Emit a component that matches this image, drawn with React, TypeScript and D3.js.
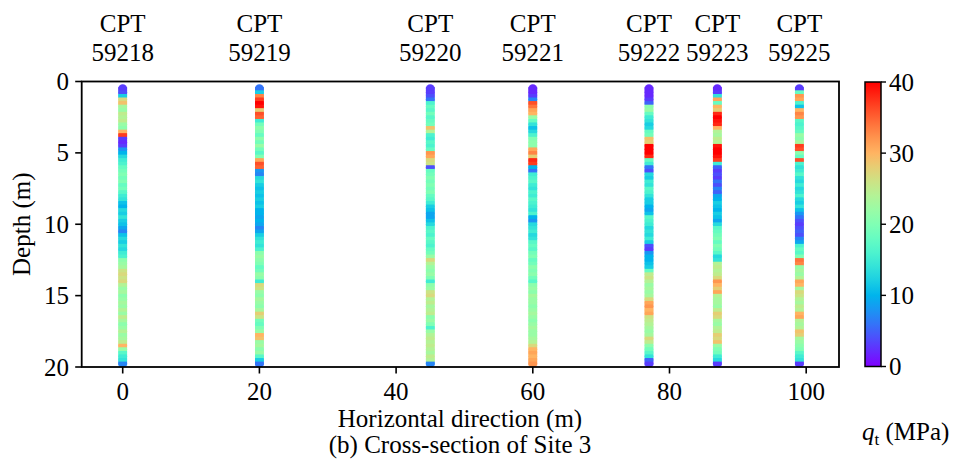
import React from "react";
import * as d3 from "d3";

// CPT soundings along the cross-section
const CPT_IDS = ["59218", "59219", "59220", "59221", "59222", "59223", "59225"];
const CPT_X = [0, 20, 45, 60, 77, 87, 99];

// Sampling depths (m): 0.5 m to 19.75 m every 0.25 m
const DEPTH_STEP = 0.25;
const DEPTHS = d3.range(0.5, 19.76, DEPTH_STEP);

// Cone resistance q_t (MPa), one value per sampling depth
const QT_59218 = [
  3, 4, 12, 27, 29, 23, 22, 25, 24, 25, 22, 21, 30, 37, 3, 2,
  3, 8, 10, 13, 15, 16, 18, 19, 20, 19, 20, 18, 19, 17, 15, 14,
  11, 10, 13, 12, 14, 12, 11, 9, 7, 11, 13, 12, 14, 13, 15, 16,
  21, 22, 23, 26, 27, 26, 27, 24, 22, 23, 21, 22, 23, 22, 24, 22,
  25, 23, 21, 22, 24, 22, 23, 25, 30, 22, 17, 15, 14, 7,
];
const QT_59219 = [
  6, 12, 33, 37, 40, 39, 28, 36, 35, 15, 19, 21, 20, 18, 21, 19,
  22, 19, 17, 20, 31, 36, 35, 8, 7, 13, 14, 12, 11, 12, 11, 12,
  11, 12, 10, 10, 9, 10, 9, 7, 9, 12, 14, 15, 14, 16, 21, 22,
  21, 20, 18, 19, 22, 21, 15, 27, 26, 22, 21, 23, 22, 21, 23, 28,
  26, 19, 18, 20, 22, 30, 29, 22, 23, 21, 22, 17, 12, 6,
];
const QT_59220 = [
  3, 3, 4, 6, 16, 18, 17, 19, 17, 18, 19, 29, 24, 16, 15, 17,
  16, 18, 32, 31, 27, 26, 4, 18, 19, 20, 19, 20, 19, 20, 18, 17,
  15, 12, 11, 9, 9, 11, 13, 16, 17, 16, 18, 17, 16, 18, 19, 22,
  27, 24, 22, 21, 22, 20, 15, 21, 22, 26, 27, 24, 25, 23, 24, 25,
  21, 22, 20, 16, 22, 24, 25, 24, 25, 24, 23, 25, 24, 7,
];
const QT_59221 = [
  2, 2, 3, 7, 36, 34, 31, 30, 22, 18, 14, 11, 13, 16, 20, 21,
  21, 31, 33, 28, 38, 37, 10, 6, 15, 16, 17, 15, 14, 16, 15, 17,
  16, 15, 14, 16, 10, 8, 13, 14, 15, 13, 14, 17, 18, 17, 19, 20,
  18, 19, 21, 20, 21, 19, 17, 21, 22, 21, 23, 22, 22, 21, 22, 23,
  22, 21, 22, 23, 22, 22, 23, 24, 27, 30, 31, 30, 31, 32,
];
const QT_59222 = [
  2, 2, 2, 3, 5, 21, 22, 18, 15, 14, 12, 13, 18, 19, 29, 28,
  40, 40, 40, 38, 18, 15, 6, 4, 13, 12, 15, 14, 17, 16, 14, 12,
  12, 10, 9, 11, 17, 16, 15, 13, 14, 13, 15, 12, 4, 3, 8, 10,
  10, 11, 12, 18, 25, 26, 24, 22, 23, 22, 23, 27, 31, 32, 30, 31,
  26, 25, 24, 23, 22, 23, 27, 25, 21, 19, 17, 14, 5, 3,
];
const QT_59223 = [
  2, 3, 14, 31, 18, 30, 28, 38, 40, 39, 38, 30, 24, 23, 25, 24,
  39, 40, 40, 39, 37, 15, 5, 3, 4, 3, 6, 4, 7, 5, 9, 10,
  12, 11, 10, 12, 11, 9, 13, 17, 18, 19, 20, 18, 20, 19, 17, 13,
  14, 24, 25, 24, 25, 27, 32, 30, 28, 31, 24, 23, 23, 22, 25, 28,
  27, 23, 22, 24, 25, 28, 27, 29, 22, 20, 19, 15, 13, 3,
];
const QT_59225 = [
  3, 18, 32, 31, 16, 11, 30, 33, 32, 17, 16, 17, 18, 22, 21, 23,
  37, 36, 21, 18, 36, 16, 14, 15, 17, 14, 13, 15, 13, 14, 16, 13,
  12, 14, 11, 8, 6, 4, 3, 4, 5, 4, 7, 9, 16, 18, 17, 20,
  34, 33, 22, 23, 22, 24, 31, 30, 23, 27, 26, 24, 23, 25, 24, 30,
  31, 24, 23, 24, 29, 28, 23, 22, 21, 20, 17, 15, 14, 3,
];
const QT_SERIES = [QT_59218, QT_59219, QT_59220, QT_59221, QT_59222, QT_59223, QT_59225];

const X_TICKS = [0, 20, 40, 60, 80, 100];
const Y_TICKS = [0, 5, 10, 15, 20];
const CBAR_TICKS = [0, 10, 20, 30, 40];

// matplotlib-style "rainbow" colormap
function rainbow(t: number): string {
  const c = Math.max(0, Math.min(1, t));
  const r = Math.min(1, Math.abs(2 * c - 0.5));
  const g = Math.sin(Math.PI * c);
  const b = Math.cos((Math.PI * c) / 2);
  return d3.rgb(r * 255, g * 255, b * 255).formatHex();
}

const W = 957;
const H = 464;
const FONT = "'Liberation Serif', 'Times New Roman', serif";
const FS = 25;

const PL = 81.7;
const PR = 839;
const PT = 81.5;
const PB = 367;

export default function App() {
  const x = d3.scaleLinear().domain([-6, 104.8]).range([PL, PR]);
  const y = d3.scaleLinear().domain([0, 20]).range([PT, PB]);
  const color = (v: number) => rainbow(v / 40);
  const R = 4.4;
  const bandH = y(DEPTH_STEP) - y(0);

  const cbX = 865;
  const cbW = 16;
  const cb = d3.scaleLinear().domain([0, 40]).range([366.5, 82]);
  const stops = d3.range(0, 1.0001, 0.05);

  return (
    <svg
      width={W}
      height={H}
      style={{ position: "absolute", left: 0, top: 0, background: "#fff" }}
      fontFamily={FONT}
    >
      <defs>
        <linearGradient id="cbar" x1="0" y1="1" x2="0" y2="0">
          {stops.map((s) => (
            <stop key={s} offset={s} stopColor={rainbow(s)} />
          ))}
        </linearGradient>
        <clipPath id="plotclip">
          <rect x={PL} y={PT} width={PR - PL} height={PB - PT} />
        </clipPath>
      </defs>

      {/* CPT columns: round markers with a band per sample so the column reads continuous */}
      <g clipPath="url(#plotclip)">
        {QT_SERIES.map((vals, ci) => {
          const cx = x(CPT_X[ci]);
          return (
            <g key={CPT_IDS[ci]}>
              {vals.map((v, i) => (
                <circle key={"c" + i} cx={cx} cy={y(DEPTHS[i])} r={R} fill={color(v)} />
              ))}
              {vals.map((v, i) => (
                <rect
                  key={"r" + i}
                  x={cx - R}
                  y={y(DEPTHS[i]) - bandH / 2}
                  width={2 * R}
                  height={bandH + 0.3}
                  fill={color(v)}
                />
              ))}
            </g>
          );
        })}
      </g>

      {/* sounding labels */}
      {CPT_IDS.map((id, ci) => (
        <text key={id} textAnchor="middle" fontSize={FS} fill="#000">
          <tspan x={x(CPT_X[ci])} y={32}>CPT</tspan>
          <tspan x={x(CPT_X[ci])} y={61}>{id}</tspan>
        </text>
      ))}

      {/* frame */}
      <rect x={PL} y={PT} width={PR - PL} height={PB - PT} fill="none" stroke="#000" strokeWidth={1.8} />

      {/* x axis */}
      {X_TICKS.map((t) => (
        <g key={t}>
          <line x1={x(t)} x2={x(t)} y1={PB} y2={PB + 6.5} stroke="#000" strokeWidth={1.6} />
          <text x={x(t)} y={400} textAnchor="middle" fontSize={FS}>{t}</text>
        </g>
      ))}
      <text x={460} y={427} textAnchor="middle" fontSize={FS}>Horizontal direction (m)</text>
      <text x={460} y={453} textAnchor="middle" fontSize={FS}>(b) Cross-section of Site 3</text>

      {/* y axis */}
      {Y_TICKS.map((t) => (
        <g key={t}>
          <line x1={PL - 6.5} x2={PL} y1={y(t)} y2={y(t)} stroke="#000" strokeWidth={1.6} />
          <text x={69} y={y(t) + 8.5} textAnchor="end" fontSize={FS}>{t}</text>
        </g>
      ))}
      <text transform={`translate(30,${(PT + PB) / 2}) rotate(-90)`} textAnchor="middle" fontSize={FS}>
        Depth (m)
      </text>

      {/* colorbar */}
      <rect x={cbX} y={82} width={cbW} height={366.5 - 82} fill="url(#cbar)" stroke="#000" strokeWidth={1.5} />
      {CBAR_TICKS.map((t) => (
        <g key={t}>
          <line x1={cbX + cbW} x2={cbX + cbW + 5} y1={cb(t)} y2={cb(t)} stroke="#000" strokeWidth={1.4} />
          <text x={cbX + cbW + 8} y={cb(t) + 8.5} fontSize={FS}>{t}</text>
        </g>
      ))}
      <text x={862} y={440} fontSize={FS}>
        <tspan fontStyle="italic">q</tspan>
        <tspan dy={5} fontSize={17}>t</tspan>
        <tspan dy={-5}> (MPa)</tspan>
      </text>
    </svg>
  );
}
